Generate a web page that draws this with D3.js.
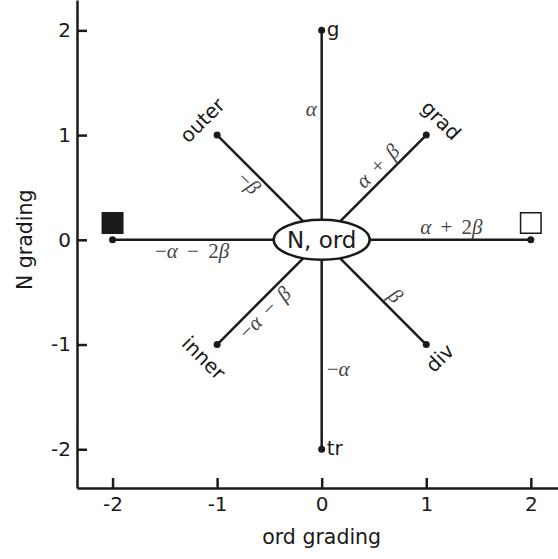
<!DOCTYPE html>
<html>
<head>
    <meta charset="utf-8">
    <script type="text/javascript" src="https://cdn.jsdelivr.net/npm/d3@7"></script>
    <style>
        body { margin: 0; background: #fff; }
        text { font-family: "DejaVu Sans", sans-serif; fill: #1a1a1a; }
        .math { font-family: "Liberation Serif", serif; fill: #444; font-size: 21px; word-spacing: 4px; }
    </style>
</head>

<body>
    <div id="viz"></div>
    <script type="text/javascript">

    // axis extents and ticks
    var xDomain = [-2.34, 2.26],
        yDomain = [-2.37, 2.29],
        xTicks = [-2, -1, 0, 1, 2],
        yTicks = [-2, -1, 0, 1, 2];

    // outer nodes of the star, clockwise from the top
    var nodeNames = ["g", "grad", "", "div", "tr", "inner", "", "outer"],
        nodeX = [0, 1, 2, 1, 0, -1, -2, -1],
        nodeY = [2, 1, 0, -1, -2, -1, 0, 1],
        edgeLabels = ["α", "α + β", "α + 2β", "β", "−α", "−α − β", "−α − 2β", "−β"];

    var centerName = "N, ord";

    // the two squares next to the horizontal ends
    var squareX = [-2, 2],
        squareY = [0.16, 0.16],
        squareFilled = [true, false];

    var W = 558, H = 559;

    var svg = d3.select("#viz")
        .append("svg")
        .attr("width", W)
        .attr("height", H);

    var x = d3.scaleLinear().domain(xDomain).range([77, W]);
    var y = d3.scaleLinear().domain(yDomain).range([488, 0]);

    // axes, ticks pointing inwards
    var xAxis = svg.append("g")
        .attr("transform", "translate(0," + y(yDomain[0]) + ")")
        .call(d3.axisBottom(x).tickValues(xTicks).tickFormat(function(d){return String(d);})
            .tickSizeInner(-10).tickSizeOuter(0).tickPadding(9));

    var yAxis = svg.append("g")
        .attr("transform", "translate(" + x(xDomain[0]) + ",0)")
        .call(d3.axisLeft(y).tickValues(yTicks).tickFormat(function(d){return String(d);})
            .tickSizeInner(-10).tickSizeOuter(0).tickPadding(6));

    svg.selectAll(".domain, .tick line")
        .attr("stroke", "#1a1a1a")
        .attr("stroke-width", 2.5);
    svg.selectAll(".tick text")
        .attr("fill", "#1a1a1a")
        .style("font-family", "'DejaVu Sans', sans-serif")
        .style("font-size", "20px");
    xAxis.selectAll(".tick text").attr("dy", "0.71em");

    svg.append("text")
        .attr("x", x(0))
        .attr("y", 544)
        .attr("text-anchor", "middle")
        .style("font-size", "20.5px")
        .text("ord grading");

    svg.append("text")
        .attr("transform", "translate(32," + y(0) + ") rotate(-90)")
        .attr("text-anchor", "middle")
        .style("font-size", "20.5px")
        .text("N grading");

    var nodes = nodeNames.map(function(n, i){
        return {name: n, x: nodeX[i], y: nodeY[i], label: edgeLabels[i]};
    });

    var cx = x(0), cy = y(0);

    function norm(a) {
        while (a > 90) a -= 180;
        while (a <= -90) a += 180;
        return a;
    }

    // edges
    svg.selectAll("line.edge")
        .data(nodes)
        .enter().append("line")
        .attr("class", "edge")
        .attr("x1", cx).attr("y1", cy)
        .attr("x2", function(d){return x(d.x);})
        .attr("y2", function(d){return y(d.y);})
        .attr("stroke", "#1a1a1a")
        .attr("stroke-width", 2.5);

    svg.selectAll("circle.end")
        .data(nodes)
        .enter().append("circle")
        .attr("class", "end")
        .attr("cx", function(d){return x(d.x);})
        .attr("cy", function(d){return y(d.y);})
        .attr("r", 3.5)
        .attr("fill", "#1a1a1a");

    // edge labels, on the counter-clockwise side of each edge
    nodes.forEach(function(d){
        var dx = x(d.x) - cx, dy = y(d.y) - cy,
            len = Math.sqrt(dx*dx + dy*dy),
            ux = dx/len, uy = dy/len,
            nx = uy, ny = -ux,
            t = 0.62,
            vertical = Math.abs(ux) < 0.01,
            diagonal = Math.abs(ux) > 0.01 && Math.abs(uy) > 0.01,
            off = vertical ? 5 : (diagonal ? 12 : 12),
            px = cx + t*dx + off*nx,
            py = cy + t*dy + off*ny,
            ang = diagonal ? norm(Math.atan2(dy, dx)*180/Math.PI) : 0;

        var txt = svg.append("text")
            .attr("class", "math")
            .attr("transform", "translate(" + px + "," + py + ") rotate(" + ang + ")")
            .attr("dy", "0.3em")
            .attr("text-anchor", vertical ? (nx < 0 ? "end" : "start") : "middle");
        d.label.split("").forEach(function(ch){
            txt.append("tspan")
                .style("font-style", /[αβ]/.test(ch) ? "italic" : "normal")
                .text(ch);
        });
    });

    // node names
    nodes.filter(function(d){return d.name;}).forEach(function(d){
        var dx = x(d.x) - cx, dy = y(d.y) - cy,
            len = Math.sqrt(dx*dx + dy*dy),
            ux = dx/len, uy = dy/len,
            vertical = Math.abs(ux) < 0.01;
        if (vertical) {
            svg.append("text")
                .attr("x", x(d.x) + 5)
                .attr("y", y(d.y))
                .attr("dy", "0.28em")
                .style("font-size", "20px")
                .text(d.name);
        } else {
            var ang = norm(Math.atan2(dy, dx)*180/Math.PI + 90);
            svg.append("text")
                .attr("transform", "translate(" + (x(d.x) + 20*ux) + "," + (y(d.y) + 20*uy) + ") rotate(" + ang + ")")
                .attr("text-anchor", "middle")
                .attr("dy", "0.3em")
                .style("font-size", "20px")
                .text(d.name);
        }
    });

    // squares
    var sq = squareX.map(function(v, i){return {x: v, y: squareY[i], filled: squareFilled[i]};});
    svg.selectAll("path.sq")
        .data(sq)
        .enter().append("path")
        .attr("class", "sq")
        .attr("transform", function(d){return "translate(" + x(d.x) + "," + y(d.y) + ")";})
        .attr("d", d3.symbol().type(d3.symbolSquare).size(420))
        .attr("fill", function(d){return d.filled ? "#1a1a1a" : "#fff";})
        .attr("stroke", "#1a1a1a")
        .attr("stroke-width", 1.5);

    // centre node
    svg.append("ellipse")
        .attr("cx", cx).attr("cy", cy)
        .attr("rx", 48).attr("ry", 20)
        .attr("fill", "#fff")
        .attr("stroke", "#1a1a1a")
        .attr("stroke-width", 2.5);

    svg.append("text")
        .attr("x", cx).attr("y", cy)
        .attr("dy", "0.36em")
        .attr("text-anchor", "middle")
        .style("font-size", "23px")
        .text(centerName);

    </script>
</body>
</html>
